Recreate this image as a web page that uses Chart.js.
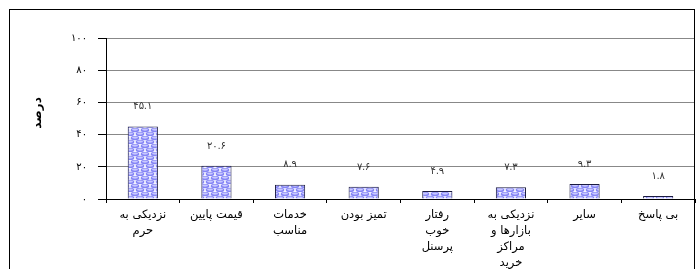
<!DOCTYPE html>
<html><head><meta charset="utf-8">
<script src="https://cdn.jsdelivr.net/npm/chart.js@4.4.1/dist/chart.umd.min.js"></script>
<style>html,body{margin:0;padding:0;background:#fff}#wrap{width:697px;height:269px}</style>
</head><body><div id="wrap"><canvas id="c" width="697" height="269"></canvas></div>
<script>
const categories = [
  ["نزدیکی به","حرم"],
  ["قیمت پایین"],
  ["خدمات","مناسب"],
  ["تمیز بودن"],
  ["رفتار","خوب","پرسنل"],
  ["نزدیکی به","بازارها و","مراکز","خرید"],
  ["سایر"],
  ["بی پاسخ"]
];
const values = [45.1, 20.6, 8.9, 7.6, 4.9, 7.3, 9.3, 1.8];
const yTicks = [0, 20, 40, 60, 80, 100];
const yTitle = "درصد";

const fa = s => String(s).replace(/[0-9]/g, d => "۰۱۲۳۴۵۶۷۸۹"[d]);

function makePattern(){
  const t = document.createElement('canvas');
  t.width = 10; t.height = 8;
  const g = t.getContext('2d');
  g.fillStyle = '#f4f4ff'; g.fillRect(0,0,10,8);
  function oval(cx, cy){
    g.beginPath(); g.ellipse(cx, cy, 4.3, 2.2, 0, 0, Math.PI*2);
    g.fillStyle = '#8585f5'; g.fill();
    g.beginPath(); g.ellipse(cx, cy-0.4, 3, 1.1, 0, 0, Math.PI*2);
    g.fillStyle = '#c8c8ff'; g.fill();
  }
  oval(5, 2); oval(0, 6); oval(10, 6);
  return document.getElementById('c').getContext('2d').createPattern(t, 'repeat');
}

const frame = {
  id: 'frame',
  afterDraw(chart){
    const ctx = chart.ctx;
    ctx.save();
    ctx.strokeStyle = '#000'; ctx.lineWidth = 1;
    ctx.strokeRect(9.5, 9.5, 685, 300);
    // value labels
    const meta = chart.getDatasetMeta(0);
    ctx.font = '10px "Liberation Sans", "DejaVu Sans", sans-serif';
    ctx.fillStyle = '#333';
    ctx.textAlign = 'center'; ctx.textBaseline = 'bottom';
    meta.data.forEach((el, i) => {
      ctx.fillText(fa(values[i]), el.x, el.y - 15);
    });
    // axis title
    ctx.translate(38, 113);
    ctx.rotate(-Math.PI/2);
    ctx.font = 'bold 12px "DejaVu Sans", sans-serif';
    ctx.fillStyle = '#000';
    ctx.textBaseline = 'middle';
    ctx.fillText(yTitle, 0, 0);
    ctx.restore();
  }
};

new Chart(document.getElementById('c'), {
  type: 'bar',
  data: {
    labels: categories,
    datasets: [{
      data: values,
      backgroundColor: makePattern(),
      borderColor: '#1a1a40',
      borderWidth: 1,
      barPercentage: 0.41,
      categoryPercentage: 1
    }]
  },
  options: {
    responsive: false,
    animation: false,
    devicePixelRatio: 1,
    layout: { padding: { top: 38, right: 2, left: 0, bottom: 0 } },
    plugins: { legend: { display: false }, tooltip: { enabled: false } },
    scales: {
      x: {
        grid: { drawOnChartArea: false, drawTicks: true, tickLength: 4, tickColor: '#000', offset: true },
        border: { color: '#000', width: 1 },
        ticks: { color: '#000', maxRotation: 0, minRotation: 0, autoSkip: false, padding: 4,
          font: { family: '"DejaVu Sans", sans-serif', size: 11.5, lineHeight: 1.38 } },
        afterFit(s){ s.height = 70; }
      },
      y: {
        min: 0, max: 100,
        afterBuildTicks(s){ s.ticks = yTicks.map(v => ({ value: v })); },
        grid: { color: '#888', tickLength: 8, tickColor: '#000' },
        border: { color: '#000', width: 1 },
        ticks: { color: '#000', padding: 11, callback: v => fa(v),
          font: { family: '"Liberation Sans", "DejaVu Sans", sans-serif', size: 10 } },
        afterFit(s){ s.width = 106; }
      }
    }
  },
  plugins: [frame]
});
</script></body></html>
